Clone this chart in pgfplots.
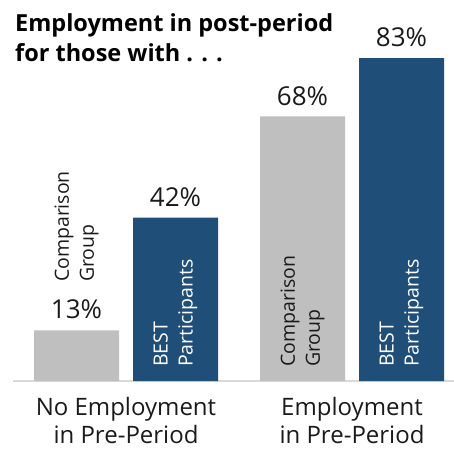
\documentclass[border=0pt]{standalone}
\usepackage{fontspec}
\setmainfont{Open Sans}
\usepackage{pgfplots}
\pgfplotsset{compat=1.18}
\definecolor{cgray}{HTML}{BFBFBF}
\definecolor{cblue}{HTML}{1F4E79}
\definecolor{axgray}{HTML}{D9D9D9}
\definecolor{txt}{HTML}{1A1A1A}
\begin{document}
\begin{tikzpicture}
\useasboundingbox (0,0) rectangle (454pt,448pt);
\begin{axis}[
  at={(13pt,67pt)}, anchor=south west,
  scale only axis, width=441pt, height=369.6pt,
  xmin=13, xmax=454, ymin=0, ymax=95,
  axis line style={draw=none}, tick style={draw=none},
  /pgf/number format/assume math mode=true,
  ytick=\empty,
  xtick={126,352},
  xticklabels={{No Employment\\in Pre-Period},{Employment\\in Pre-Period}},
  xticklabel style={font=\fontsize{24}{28}\selectfont, align=center, anchor=north, inner sep=0pt, yshift=-16pt, text=txt},
  clip=false,
  every node near coord/.style={font=\fontsize{26}{30}\selectfont, inner sep=0pt, anchor=south, yshift=11pt, text=txt},
  nodes near coords={\pgfmathprintnumber{\pgfplotspointmeta}\%},
]
\draw[axgray, line width=2pt] (axis cs:13,0) -- (axis cs:454,0);
\addplot[ybar, bar width=85, bar shift=0pt, fill=cgray, draw=none] coordinates {(76.5,13) (302.5,68)};
\addplot[ybar, bar width=85, bar shift=0pt, fill=cblue, draw=none] coordinates {(175.5,42) (401.5,83)};
\node[rotate=90, anchor=west, align=left, font=\fontsize{19.5}{25}\selectfont, inner sep=0pt, text=txt] at (axis cs:76.5,25.4) {Comparison\\Group};
\node[rotate=90, anchor=west, align=left, font=\fontsize{19.5}{25}\selectfont, inner sep=0pt, text=txt] at (axis cs:302.5,3.6) {Comparison\\Group};
\node[rotate=90, anchor=west, align=left, font=\fontsize{19.5}{25}\selectfont, inner sep=0pt, text=white] at (axis cs:175.5,3.6) {BEST\\Participants};
\node[rotate=90, anchor=west, align=left, font=\fontsize{19.5}{25}\selectfont, inner sep=0pt, text=white] at (axis cs:401.5,3.6) {BEST\\Participants};
\end{axis}
\node[anchor=base west, font=\bfseries\fontsize{23.5}{30}\selectfont, text=black, inner sep=0pt] at (15pt,416pt) {Employment in post-period};
\node[anchor=base west, font=\bfseries\fontsize{23.5}{30}\selectfont, text=black, inner sep=0pt] at (15pt,386pt) {for those with . . .};
\end{tikzpicture}
\end{document}
